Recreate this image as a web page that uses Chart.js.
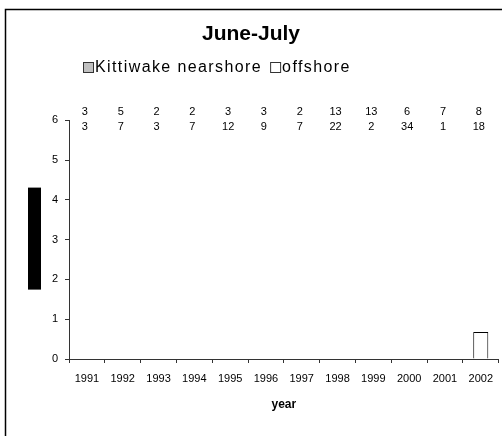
<!DOCTYPE html>
<html>
<head>
<meta charset="utf-8">
<script src="https://cdn.jsdelivr.net/npm/chart.js@4.4.1/dist/chart.umd.min.js"></script>
<style>
  html, body { margin: 0; padding: 0; background: #fff; overflow: hidden; }
  #wrap { width: 502px; height: 436px; }
</style>
</head>
<body>
<div id="wrap"><canvas id="chart"></canvas></div>
<script>
const years = ['1991', '1992', '1993', '1994', '1995', '1996', '1997', '1998', '1999', '2000', '2001', '2002'];
const nearshore = [0, 0, 0, 0, 0, 0, 0, 0, 0, 0, 0, 0];
const offshore = [0, 0, 0, 0, 0, 0, 0, 0, 0, 0, 0, 0.68];
// sample sizes printed above the plot
const nearshoreN = [3, 5, 2, 2, 3, 3, 2, 13, 13, 6, 7, 8];
const offshoreN = [3, 7, 3, 7, 12, 9, 7, 22, 2, 34, 1, 18];
const yTicks = [0, 1, 2, 3, 4, 5, 6];

const FONT = 'Arial, "Liberation Sans", sans-serif';

// frame, legend, sample sizes and the blacked out y title
const extras = {
  id: 'extras',
  beforeDraw(chart) {
    const ctx = chart.ctx;
    const area = chart.chartArea;
    ctx.save();
    ctx.fillStyle = '#000';
    const midY = (area.top + area.bottom) / 2;
    ctx.fillRect(28, midY - 52, 13, 102);
    ctx.restore();
  },
  afterDraw(chart) {
    const ctx = chart.ctx;
    const area = chart.chartArea;
    const x = chart.scales.x;
    ctx.save();
    ctx.strokeStyle = '#000';
    ctx.lineWidth = 1.5;
    ctx.beginPath();
    ctx.moveTo(5.5, chart.height);
    ctx.lineTo(5.5, 9.5);
    ctx.lineTo(chart.width, 9.5);
    ctx.stroke();

    // legend
    ctx.font = '16px ' + FONT;
    ctx.letterSpacing = '1.4px';
    ctx.textBaseline = 'middle';
    ctx.textAlign = 'left';
    ctx.lineWidth = 1;
    const items = [
      { label: chart.data.datasets[0].label, fill: '#c0c0c0' },
      { label: chart.data.datasets[1].label, fill: '#fff' }
    ];
    let lx = 83;
    const ly = 68;
    items.forEach(it => {
      ctx.fillStyle = it.fill;
      ctx.fillRect(lx + 0.5, ly - 5.5, 10, 10);
      ctx.strokeStyle = '#333';
      ctx.strokeRect(lx + 0.5, ly - 5.5, 10, 10);
      ctx.fillStyle = '#000';
      ctx.fillText(it.label, lx + 12, ly);
      lx += 12 + ctx.measureText(it.label).width + 8;
    });

    // sample sizes
    ctx.letterSpacing = '0px';
    ctx.font = '11px ' + FONT;
    ctx.textAlign = 'center';
    years.forEach((y, i) => {
      const px = x.getPixelForValue(i) - 2;
      ctx.fillText(String(nearshoreN[i]), px, area.top - 8);
      ctx.fillText(String(offshoreN[i]), px, area.top + 7);
    });
    ctx.restore();
  }
};

new Chart(document.getElementById('chart'), {
  type: 'bar',
  data: {
    labels: years,
    datasets: [
      {
        label: 'Kittiwake nearshore',
        data: nearshore,
        backgroundColor: '#c0c0c0',
        borderColor: '#000',
        borderWidth: 1
      },
      {
        label: 'offshore',
        data: offshore,
        backgroundColor: '#fff',
        borderColor: '#000',
        borderWidth: 1
      }
    ]
  },
  options: {
    responsive: true,
    maintainAspectRatio: false,
    animation: false,
    grouped: false,
    barPercentage: 0.42,
    categoryPercentage: 1,
    layout: { padding: { left: 0, right: 0, top: 0, bottom: 0 } },
    plugins: {
      legend: { display: false },
      tooltip: { enabled: false },
      title: {
        display: true,
        text: 'June-July',
        color: '#000',
        font: { family: FONT, size: 21, weight: 'bold' },
        padding: { top: 22, bottom: 73 }
      }
    },
    scales: {
      x: {
        afterFit: s => { s.height = 77; },
        grid: {
          offset: true,
          drawOnChartArea: false,
          drawTicks: true,
          tickLength: 4,
          color: '#333'
        },
        border: { display: true, color: '#333', width: 1 },
        ticks: {
          color: '#000',
          padding: 9,
          maxRotation: 0,
          autoSkip: false,
          font: { family: FONT, size: 11 }
        },
        title: {
          display: true,
          text: 'year',
          color: '#000',
          font: { family: FONT, size: 12, weight: 'bold' },
          padding: { top: 4, bottom: 24 }
        }
      },
      y: {
        min: 0,
        max: 6,
        afterFit: s => { s.width = 69; },
        afterBuildTicks: s => { s.ticks = yTicks.map(v => ({ value: v })); },
        grid: {
          drawOnChartArea: false,
          drawTicks: true,
          tickLength: 4,
          color: '#333'
        },
        border: { display: true, color: '#333', width: 1 },
        ticks: {
          color: '#000',
          padding: 7,
          font: { family: FONT, size: 11 }
        }
      }
    }
  },
  plugins: [extras]
});
</script>
</body>
</html>
